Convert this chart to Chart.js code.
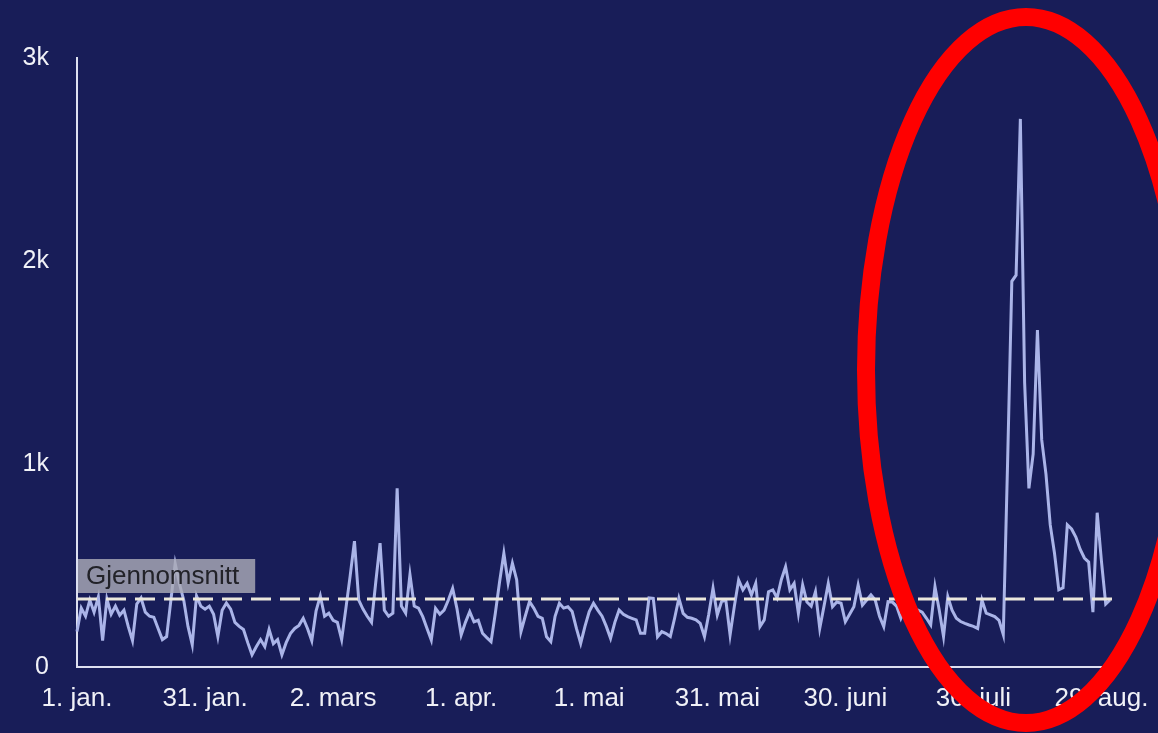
<!DOCTYPE html>
<html>
<head>
<meta charset="utf-8">
<script src="https://cdn.jsdelivr.net/npm/chart.js@4/dist/chart.umd.min.js"></script>
<style>
  html, body { margin: 0; padding: 0; background: #181d58; }
  #wrap { width: 1158px; height: 733px; }
</style>
</head>
<body>
<div id="wrap"><canvas id="c" width="1158" height="733"></canvas></div>
<script>
// Daily values, 1 Jan (day 0) to 31 Aug (day 242)
const dailyValues = [
  175, 290, 250, 330, 270, 345, 130, 335, 260, 300,
  255, 280, 200, 130, 310, 340, 270, 250, 245, 190,
  135, 150, 330, 510, 410, 330, 200, 110, 350, 300,
  285, 300, 260, 150, 280, 315, 285, 220, 200, 185,
  120, 60, 100, 135, 100, 185, 115, 135, 60, 120,
  165, 190, 205, 240, 190, 130, 275, 350, 250, 265,
  230, 220, 135, 290, 450, 620, 330, 285, 250, 220,
  420, 610, 280, 250, 265, 880, 300, 265, 455, 300,
  290, 248, 190, 133, 289, 260, 280, 330, 387, 289,
  158, 220, 272, 222, 230, 166, 145, 125, 265, 420,
  560, 414, 511, 430, 174, 250, 322, 290, 250, 240,
  149, 125, 250, 314, 290, 297, 273, 190, 116, 200,
  273, 314, 280, 250, 200, 141, 220, 281, 260, 248,
  240, 232, 166, 166, 340, 338, 149, 174, 165, 150,
  240, 339, 264, 245, 240, 232, 215, 149, 260, 388,
  256, 322, 330, 158, 300, 428, 380, 412, 355, 412,
  199, 232, 371, 380, 340, 430, 494, 380, 412, 264,
  404, 320, 300, 371, 190, 300, 412, 297, 320, 314,
  223, 260, 297, 404, 305, 330, 355, 330, 250, 199,
  322, 320, 300, 240, 290, 305, 256, 280, 270, 240,
  207, 396, 280, 150, 347, 280, 240, 224, 215, 207,
  200, 190, 330, 265, 257, 248, 230, 160, 1000, 1900,
  1930, 2700, 1400, 880, 1050, 1660, 1120, 950, 700, 560,
  380, 390, 700, 680, 640, 580, 537, 517, 270, 760,
  520, 310, 330
];
const averageValue = 335;
const averageLabel = 'Gjennomsnitt';
const tickDays = [0, 30, 60, 90, 120, 150, 180, 210, 240];
const tickLabels = ['1. jan.', '31. jan.', '2. mars', '1. apr.', '1. mai', '31. mai', '30. juni', '30. juli', '29. aug.'];
const yTickValues = [0, 1000, 2000, 3000];
const yTickLabels = ['0', '1k', '2k', '3k'];

const lastDay = dailyValues.length - 1;
const linePoints = dailyValues.map((v, i) => ({ x: i, y: v }));
const avgPoints = [{ x: 0, y: averageValue }, { x: lastDay + 0.5, y: averageValue }];

const FONT = '"Liberation Sans", Arial, sans-serif';
const TEXT = '#f0f1f7';
const AXIS = '#dde0f0';

const bgPlugin = {
  id: 'bg',
  beforeDraw(chart) {
    const ctx = chart.ctx;
    ctx.save();
    ctx.fillStyle = '#181d58';
    ctx.fillRect(0, 0, chart.width, chart.height);
    ctx.restore();
  }
};

const overlayPlugin = {
  id: 'overlay',
  afterDatasetsDraw(chart) {
    const ctx = chart.ctx;
    const xs = chart.scales.x, ys = chart.scales.y;
    const x0 = xs.getPixelForValue(0) + 1;
    const yAvg = ys.getPixelForValue(averageValue);
    ctx.save();
    ctx.font = '26px ' + FONT;
    const tw = ctx.measureText(averageLabel).width;
    const bw = tw + 24, bh = 34;
    ctx.fillStyle = 'rgba(170,170,182,0.82)';
    ctx.fillRect(x0, yAvg - 6 - bh, bw, bh);
    ctx.fillStyle = '#222228';
    ctx.textBaseline = 'middle';
    ctx.fillText(averageLabel, x0 + 8, yAvg - 6 - bh / 2 + 1);
    ctx.restore();
  },
  afterDraw(chart) {
    const ctx = chart.ctx;
    ctx.save();
    ctx.strokeStyle = '#ff0000';
    ctx.lineWidth = 18;
    ctx.beginPath();
    ctx.ellipse(1026, 370, 160, 353, 0, 0, Math.PI * 2);
    ctx.stroke();
    ctx.restore();
  }
};

new Chart(document.getElementById('c'), {
  type: 'line',
  data: {
    datasets: [
      {
        data: linePoints,
        borderColor: '#aab4e8',
        borderWidth: 3,
        pointRadius: 0,
        tension: 0,
        order: 2
      },
      {
        data: avgPoints,
        borderColor: '#ebe8dc',
        borderWidth: 3,
        borderDash: [20, 9],
        pointRadius: 0,
        tension: 0,
        order: 1
      }
    ]
  },
  options: {
    responsive: false,
    animation: false,
    plugins: { legend: { display: false }, tooltip: { enabled: false } },
    layout: { padding: { top: 58, right: 48, bottom: 0, left: 0 } },
    elements: { line: { borderCapStyle: 'butt' } },
    clip: false,
    scales: {
      x: {
        type: 'linear',
        min: 0,
        max: lastDay,
        grid: { display: false, drawTicks: false },
        border: { display: true, color: AXIS, width: 2 },
        afterBuildTicks(scale) { scale.ticks = tickDays.map(v => ({ value: v })); },
        afterFit(scale) { scale.height = 66; scale.paddingLeft = 0; scale.paddingRight = 0; },
        ticks: {
          autoSkip: false,
          maxRotation: 0,
          padding: 16,
          color: TEXT,
          font: { family: FONT, size: 26 },
          callback(value) { const k = tickDays.indexOf(value); return k >= 0 ? tickLabels[k] : ''; }
        }
      },
      y: {
        min: 0,
        max: 3000,
        grid: { display: false, drawTicks: false },
        border: { display: true, color: AXIS, width: 2 },
        afterBuildTicks(scale) { scale.ticks = yTickValues.map(v => ({ value: v })); },
        afterFit(scale) { scale.width = 77; scale.paddingTop = 0; scale.paddingBottom = 0; },
        ticks: {
          padding: 28,
          color: TEXT,
          font: { family: FONT, size: 25 },
          callback(value) { const k = yTickValues.indexOf(value); return k >= 0 ? yTickLabels[k] : ''; }
        }
      }
    }
  },
  plugins: [bgPlugin, overlayPlugin]
});
</script>
</body>
</html>
